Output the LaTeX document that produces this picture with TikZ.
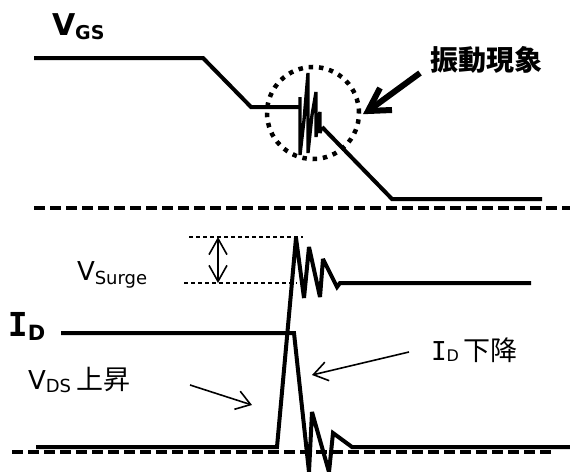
\documentclass[tikz,border=0pt]{standalone}
\usepackage{fontspec}
\setmainfont{DejaVu Sans}
\newfontfamily\jp{Noto Sans CJK JP}
\newfontfamily\monoI{DejaVu Sans Mono}
\usetikzlibrary{arrows.meta}
\tikzset{
  wave/.style={line width=4pt, line join=miter, miter limit=2.5, line cap=butt},
  oscwave/.style={line width=3.3pt, line join=bevel, line cap=butt},
  axisdash/.style={line width=4pt, dash pattern=on 11pt off 5pt},
  thindash/.style={line width=1.3pt, dash pattern=on 4pt off 3pt},
  thinarrow/.style={line width=1.6pt, -{Straight Barb[length=14pt,width=19pt]}},
  lbl/.style={anchor=base west, inner sep=0pt, outer sep=0pt},
  osccircle/.style={line width=4.5pt, dash pattern=on 4.5pt off 5.8pt},
  fatarrow/.style={line width=6pt, line join=miter, line cap=butt}
}
\begin{document}
\begin{tikzpicture}[x=1pt,y=-1pt]
\useasboundingbox (0,0) rectangle (570,471);
% axes (dashed zero lines)
\draw[axisdash] (34,208) -- (570,208);
\draw[axisdash] (12,452) -- (553,452);
% V_GS waveform
\draw[wave] (34,58) -- (203,58) -- (251,107) -- (300,107);
\draw[oscwave] (300,107) -- (300,97) -- (300,155) -- (304,120) -- (308,73) -- (308,153)
  -- (312,115) -- (316,92) -- (316,137) -- (318,120) -- (320,112) -- (320,133) -- (322,127);
\draw[wave] (322,127) -- (392,199) -- (542,199);
% oscillation circle
\node (osc) [circle, draw, osccircle, minimum size=92pt, inner sep=0pt] at (313,113) {};
% label and thick arrow
\node (vib) [lbl] at (430,70) {\jp\bfseries\fontsize{28}{28}\selectfont 振動現象};
\coordinate (vibtail) at (420,73);
\coordinate (vibtip) at (368,111);
\coordinate (vibbarbA) at (380,88);
\coordinate (vibbarbB) at (392,110);
\draw[fatarrow] (vibtail) -- (vibtip);
\draw[fatarrow] (vibbarbA) -- (vibtip) -- (vibbarbB);
% V_GS label
\node (vgs) [lbl] at (52,35) {\bfseries\fontsize{30}{30}\selectfont V\raisebox{-4pt}{\fontsize{19}{19}\selectfont GS}};
% V_surge dimension lines
\draw[thindash] (189,237) -- (303,237);
\draw[thindash] (184,283) -- (297,283);
\coordinate (sTop) at (218,237);
\coordinate (sBot) at (218,283);
\draw[line width=1.6pt, {Straight Barb[length=16pt,width=18pt]}-{Straight Barb[length=16pt,width=18pt]}] (sTop) -- (sBot);
\node (vsurge) [lbl] at (77,280) {\fontsize{26}{26}\selectfont V\raisebox{-4pt}{\fontsize{18}{18}\selectfont Surge}};
% I_D label
\node (idl) [lbl] at (8,336) {\bfseries\fontsize{33}{33}\selectfont{\monoI I}\raisebox{-4pt}{\fontsize{21}{21}\selectfont D}};
% I_D waveform
\draw[wave] (61,333) -- (294,333) -- (309,472) -- (312,412) -- (329,472) -- (333,433)
  -- (352,447) -- (570,447);
% V_DS waveform
\draw[wave] (36,447) -- (277,447) -- (296,238) -- (304,298) -- (309,247) -- (320,297)
  -- (323,259) -- (337,287) -- (340,283) -- (531,283);
% V_DS rise label and arrow
\node (vds) [lbl] at (28,389) {\fontsize{26}{26}\selectfont V\raisebox{-3pt}{\fontsize{18}{18}\selectfont DS}\hspace{5pt}{\jp\fontsize{27}{27}\selectfont 上昇}};
\coordinate (vdstail) at (190,385);
\coordinate (vdstip) at (252,405);
\draw[thinarrow] (vdstail) -- (vdstip);
% I_D fall label and arrow
\node (idfall) [lbl] at (431,360) {\fontsize{26}{26}\selectfont{\monoI I}\raisebox{-1pt}{\fontsize{16}{16}\selectfont D}\hspace{5pt}{\jp\fontsize{27}{27}\selectfont 下降}};
\coordinate (idtail) at (409,352);
\coordinate (idtip) at (312,375);
\draw[thinarrow] (idtail) -- (idtip);
\end{tikzpicture}
\end{document}
